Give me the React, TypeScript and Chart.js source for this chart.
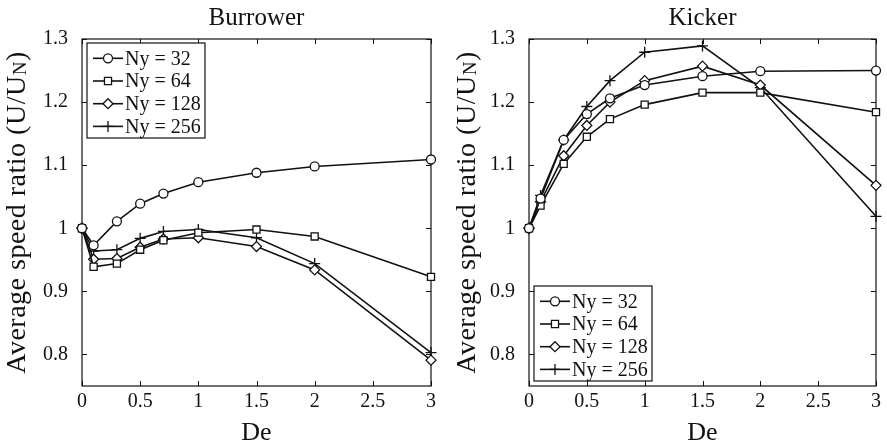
import { useEffect, useRef } from 'react';
import { Chart, registerables } from 'chart.js';
import { drawPoint } from 'chart.js/helpers';

Chart.register(...registerables);

// Deborah numbers at which both swimmers were simulated
const DE = [0, 0.1, 0.3, 0.5, 0.7, 1, 1.5, 2, 3];
const SERIES_LABELS = ['Ny = 32', 'Ny = 64', 'Ny = 128', 'Ny = 256'];

// Burrower: average speed ratio U/U_N per grid resolution
const BURROWER_NY32 = [1.0, 0.973, 1.011, 1.039, 1.055, 1.073, 1.088, 1.098, 1.109];
const BURROWER_NY64 = [1.0, 0.939, 0.944, 0.966, 0.981, 0.993, 0.998, 0.987, 0.923];
const BURROWER_NY128 = [1.0, 0.951, 0.952, 0.970, 0.983, 0.985, 0.971, 0.934, 0.791];
const BURROWER_NY256 = [1.0, 0.964, 0.966, 0.984, 0.995, 0.998, 0.985, 0.944, 0.803];

// Kicker: average speed ratio U/U_N per grid resolution
const KICKER_NY32 = [1.0, 1.047, 1.140, 1.181, 1.206, 1.227, 1.241, 1.249, 1.250];
const KICKER_NY64 = [1.0, 1.036, 1.102, 1.145, 1.173, 1.196, 1.215, 1.215, 1.184];
const KICKER_NY128 = [1.0, 1.042, 1.115, 1.163, 1.200, 1.234, 1.257, 1.227, 1.068];
const KICKER_NY256 = [1.0, 1.052, 1.140, 1.193, 1.234, 1.279, 1.289, 1.223, 1.019];

const Y_TICKS = [0.8, 0.9, 1.0, 1.1, 1.2, 1.3];
const Y_MIN = 0.75;
const Y_MAX = 1.3;
const X_MIN = 0;
const X_MAX = 3;
const X_STEP = 0.5;

const SERIF = '"Liberation Serif", "Times New Roman", serif';
const INK = '#111';

const MARKERS = [
  { pointStyle: 'circle', radius: 4.5 },
  { pointStyle: 'rect', radius: 5 },
  { pointStyle: 'rectRot', radius: 5 },
  { pointStyle: 'cross', radius: 5.5 },
];

const fmt = (v: number | string) => String(Number(Number(v).toFixed(2)));

// Boxed axes with inward ticks, a MATLAB-style legend and the y-axis title
const framePlugin = {
  id: 'frame',
  beforeDatasetsDraw(chart: any) {
    const { ctx, chartArea: a, scales } = chart;
    ctx.save();
    ctx.strokeStyle = INK;
    ctx.lineWidth = 1.2;
    ctx.strokeRect(a.left, a.top, a.right - a.left, a.bottom - a.top);
    const TL = 5;
    ctx.beginPath();
    scales.x.ticks.forEach((t: any) => {
      const px = Math.round(scales.x.getPixelForValue(t.value)) + 0.5;
      ctx.moveTo(px, a.bottom);
      ctx.lineTo(px, a.bottom - TL);
      ctx.moveTo(px, a.top);
      ctx.lineTo(px, a.top + TL);
    });
    scales.y.ticks.forEach((t: any) => {
      const py = Math.round(scales.y.getPixelForValue(t.value)) + 0.5;
      ctx.moveTo(a.left, py);
      ctx.lineTo(a.left + TL, py);
      ctx.moveTo(a.right, py);
      ctx.lineTo(a.right - TL, py);
    });
    ctx.lineWidth = 1;
    ctx.stroke();
    ctx.restore();
  },
  afterDatasetsDraw(chart: any, _args: any, opts: any) {
    const { ctx, chartArea: a } = chart;
    ctx.save();
    // legend box
    const w = 118;
    const h = 95;
    const bx = a.left + 5;
    const by = opts.legendAt === 'top' ? a.top + 4 : a.bottom - 5 - h;
    ctx.fillStyle = '#fff';
    ctx.fillRect(bx, by, w, h);
    ctx.strokeStyle = INK;
    ctx.lineWidth = 1.2;
    ctx.strokeRect(bx, by, w, h);
    chart.data.datasets.forEach((ds: any, i: number) => {
      const cy = by + 15.3 + i * 22.7;
      ctx.strokeStyle = INK;
      ctx.lineWidth = 1.6;
      ctx.beginPath();
      ctx.moveTo(bx + 6, cy);
      ctx.lineTo(bx + 36, cy);
      ctx.stroke();
      ctx.fillStyle = '#fff';
      ctx.lineWidth = 1.3;
      drawPoint(ctx, { pointStyle: ds.pointStyle, radius: ds.pointRadius, rotation: 0, borderWidth: 1.3 }, bx + 21, cy);
      ctx.fillStyle = INK;
      ctx.font = `20px ${SERIF}`;
      ctx.textAlign = 'left';
      ctx.textBaseline = 'middle';
      ctx.fillText(ds.label, bx + 38, cy + 1);
    });

    // rotated y-axis title with subscript N
    const cy = (a.top + a.bottom) / 2;
    ctx.translate(a.left - opts.yTitleGap, cy);
    ctx.rotate(-Math.PI / 2);
    const big = `28px ${SERIF}`;
    const small = `19px ${SERIF}`;
    const p1 = 'Average speed ratio (U/U';
    const p2 = 'N';
    const p3 = ')';
    (ctx as any).letterSpacing = '0.5px';
    ctx.font = big;
    const w1 = ctx.measureText(p1).width;
    const w3 = ctx.measureText(p3).width;
    ctx.font = small;
    const w2 = ctx.measureText(p2).width;
    let sx = -(w1 + w2 + w3) / 2;
    ctx.fillStyle = INK;
    ctx.textAlign = 'left';
    ctx.textBaseline = 'alphabetic';
    ctx.font = big;
    ctx.fillText(p1, sx, 0);
    sx += w1;
    ctx.font = small;
    ctx.fillText(p2, sx, 1);
    sx += w2;
    ctx.font = big;
    ctx.fillText(p3, sx, 0);
    ctx.restore();
  },
};

type PanelProps = {
  title: string;
  series: number[][];
  legendAt: 'top' | 'bottom';
  width: number;
  axisLeft: number;
  padRight: number;
  yTitleGap: number;
};

function Panel({ title, series, legendAt, width, axisLeft, padRight, yTitleGap }: PanelProps) {
  const ref = useRef<HTMLCanvasElement | null>(null);

  useEffect(() => {
    if (!ref.current) return;
    const chart = new Chart(ref.current, {
      type: 'line',
      data: {
        datasets: series.map((vals, i) => ({
          label: SERIES_LABELS[i],
          data: DE.map((x, j) => ({ x, y: vals[j] })),
          borderColor: INK,
          borderWidth: 1.6,
          fill: false,
          tension: 0,
          pointStyle: MARKERS[i].pointStyle as any,
          pointRadius: MARKERS[i].radius,
          pointBorderColor: INK,
          pointBackgroundColor: '#fff',
          pointBorderWidth: 1.3,
          clip: false as any,
        })),
      },
      options: {
        responsive: false,
        animation: false,
        devicePixelRatio: 1,
        layout: { padding: { left: 0, right: padRight, top: 0, bottom: 0 } },
        plugins: {
          legend: { display: false },
          tooltip: { enabled: false },
          title: {
            display: true,
            text: title,
            fullSize: false,
            color: INK,
            font: { family: SERIF, size: 25, weight: 'normal', lineHeight: 1.2 },
            padding: { top: 3, bottom: 6 },
          },
          frame: { legendAt, yTitleGap },
        } as any,
        scales: {
          x: {
            type: 'linear',
            position: 'bottom',
            min: X_MIN,
            max: X_MAX,
            grid: { display: false, drawTicks: false, tickLength: 0 },
            border: { display: false },
            ticks: {
              stepSize: X_STEP,
              color: INK,
              font: { family: SERIF, size: 20 },
              padding: 4,
              maxRotation: 0,
              callback: (v: any) => fmt(v),
            },
            title: {
              display: true,
              text: 'De',
              color: INK,
              font: { family: SERIF, size: 26, lineHeight: 1.05 },
              padding: { top: 0, bottom: 0 },
            },
            afterFit: (s: any) => {
              s.height = 61;
            },
          },
          y: {
            type: 'linear',
            min: Y_MIN,
            max: Y_MAX,
            afterBuildTicks: (s: any) => {
              s.ticks = Y_TICKS.map((v) => ({ value: v }));
            },
            grid: { display: false, drawTicks: false, tickLength: 0 },
            border: { display: false },
            ticks: {
              color: INK,
              font: { family: SERIF, size: 20 },
              padding: 14,
              callback: (v: any) => fmt(v),
            },
            afterFit: (s: any) => {
              s.width = axisLeft;
            },
          },
        },
      },
      plugins: [framePlugin],
    });
    return () => chart.destroy();
  }, [title, series, legendAt, width, axisLeft, padRight, yTitleGap]);

  return <canvas ref={ref} width={width} height={447} style={{ display: 'block', width, height: 447 }} />;
}

const BURROWER = [BURROWER_NY32, BURROWER_NY64, BURROWER_NY128, BURROWER_NY256];
const KICKER = [KICKER_NY32, KICKER_NY64, KICKER_NY128, KICKER_NY256];

export default function App() {
  return (
    <div style={{ position: 'absolute', left: 0, top: 0, width: 887, height: 447, background: '#fff' }}>
      <div style={{ position: 'absolute', left: 0, top: 0 }}>
        <Panel title="Burrower" series={BURROWER} legendAt="top" width={443} axisLeft={82} padRight={12} yTitleGap={57} />
      </div>
      <div style={{ position: 'absolute', left: 443, top: 0 }}>
        <Panel title="Kicker" series={KICKER} legendAt="bottom" width={444} axisLeft={86} padRight={11} yTitleGap={54} />
      </div>
    </div>
  );
}
